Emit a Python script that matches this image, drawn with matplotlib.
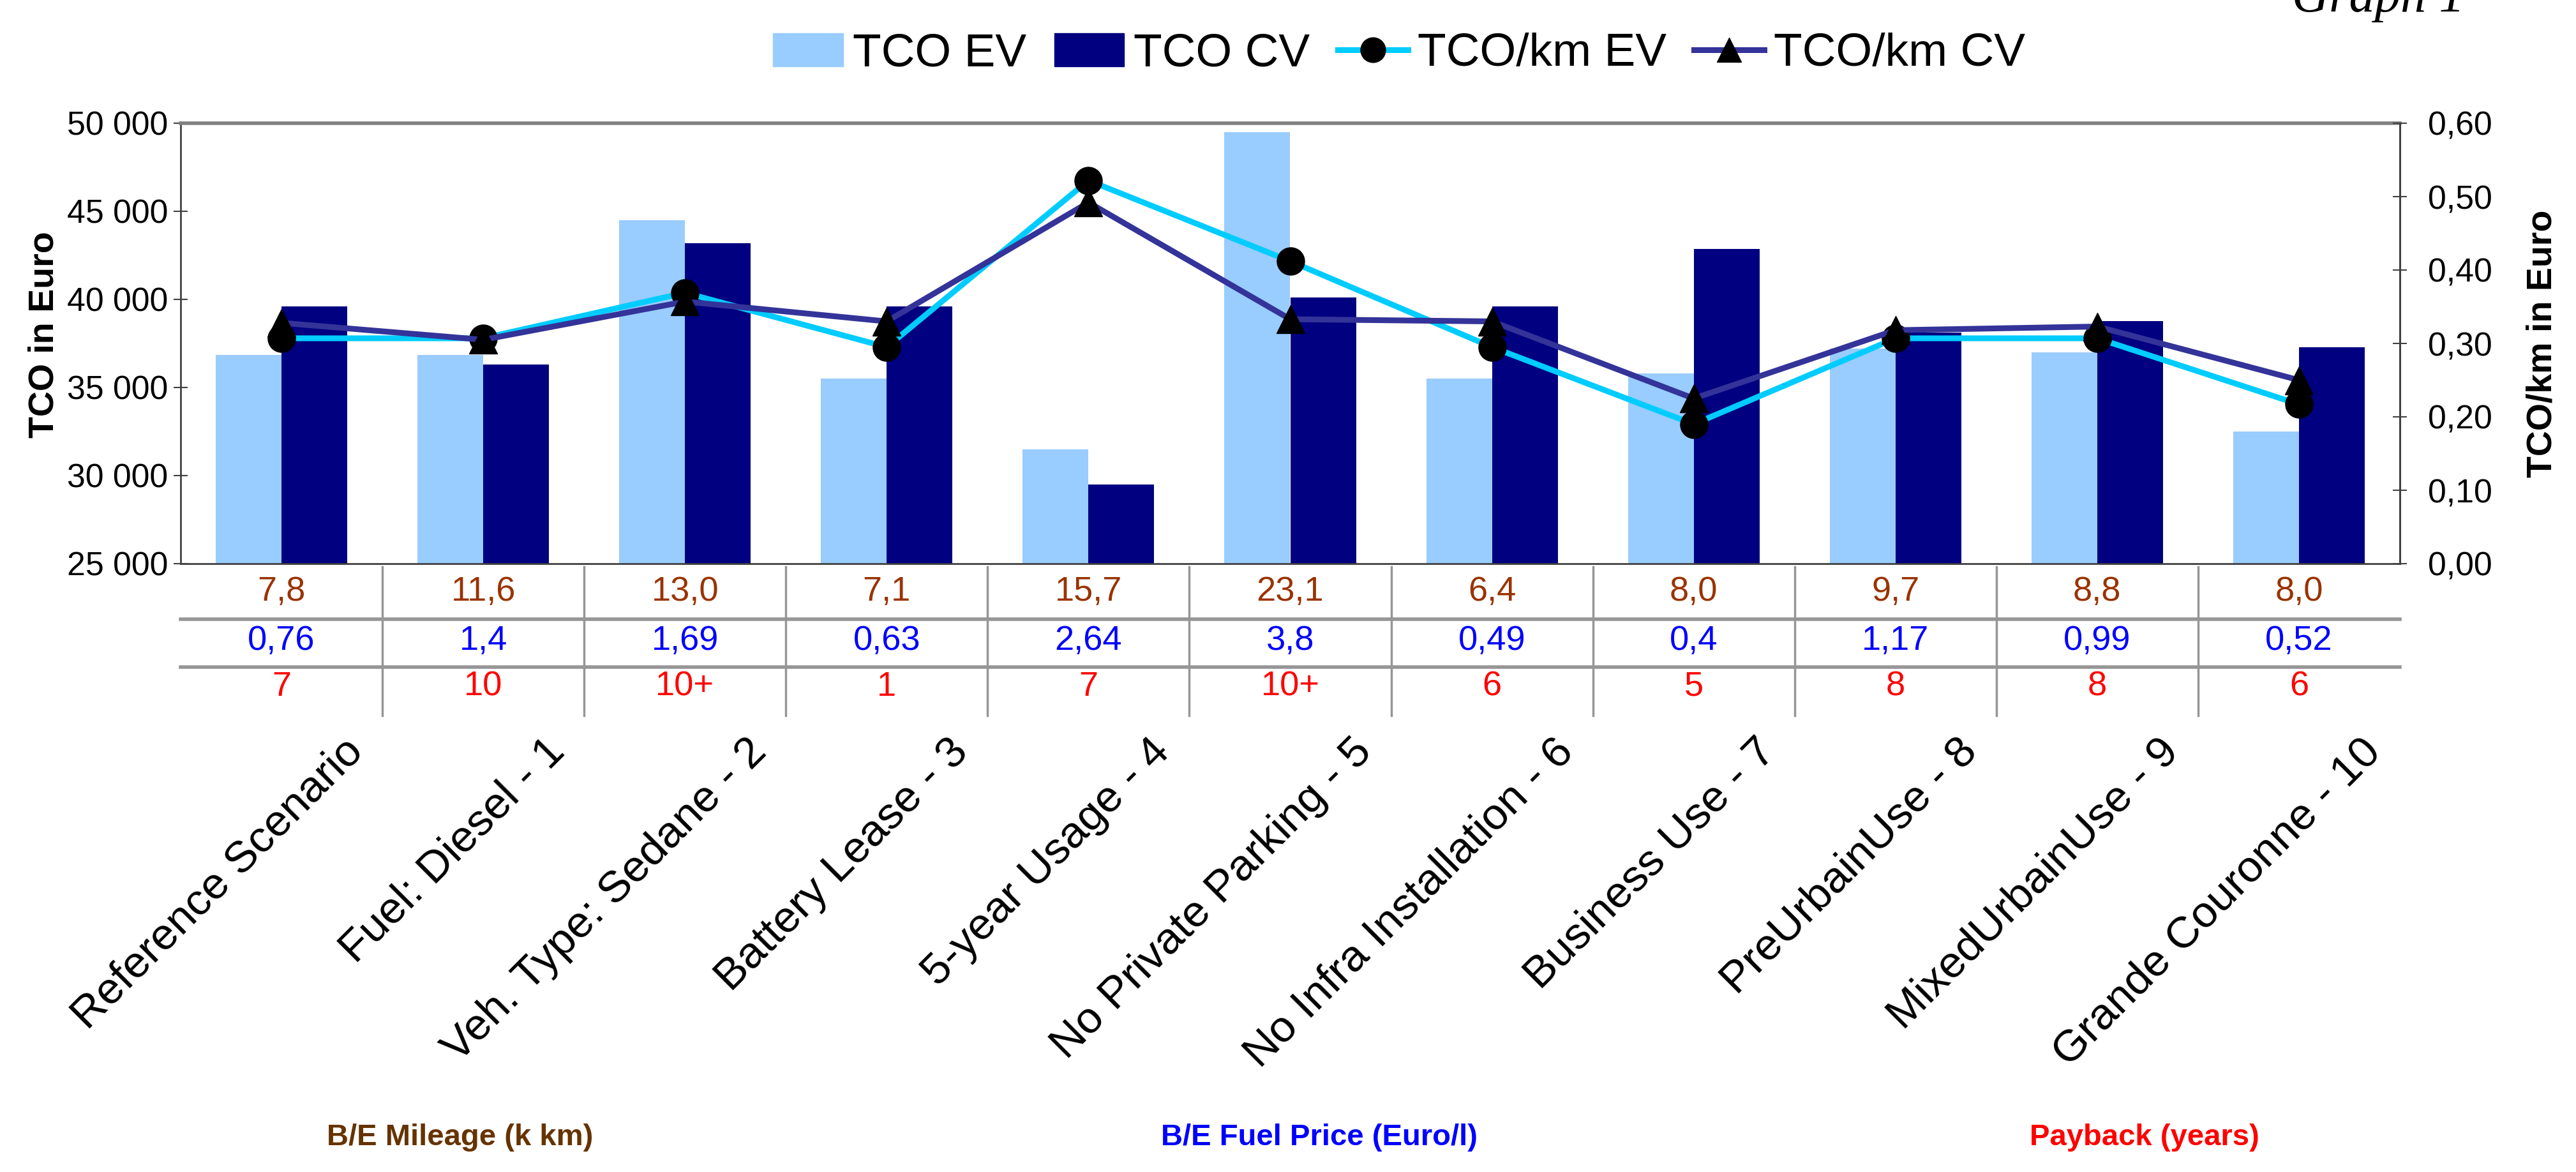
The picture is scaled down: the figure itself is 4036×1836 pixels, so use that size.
import numpy as np
import matplotlib
matplotlib.use("Agg")
import matplotlib.pyplot as plt
import matplotlib.transforms as mtrans
from matplotlib import font_manager
from matplotlib.ticker import FuncFormatter, MultipleLocator
from matplotlib.lines import Line2D
from matplotlib.patches import Patch

plt.rcParams["font.family"] = ["Liberation Sans", "DejaVu Sans"]

# the reference text is tall and narrow: use the narrow face when it exists
_names = {f.name for f in font_manager.fontManager.ttflist}
if "Liberation Sans Narrow" in _names:
    NARROW, NF = ["Liberation Sans Narrow", "Liberation Sans"], 1.0
else:
    NARROW, NF = ["Liberation Sans", "DejaVu Sans"], 0.85

# ── data ──────────────────────────────────────────────────────────────────────
scenarios = ["Reference Scenario", "Fuel: Diesel - 1", "Veh. Type: Sedane - 2",
             "Battery Lease - 3", "5-year Usage - 4", "No Private Parking - 5",
             "No Infra Installation - 6", "Business Use - 7", "PreUrbainUse - 8",
             "MixedUrbainUse - 9", "Grande Couronne - 10"]
tco_ev = [36850, 36850, 44500, 35500, 31500, 49500, 35500, 35800, 37200, 37000, 32500]
tco_cv = [39600, 36300, 43200, 39600, 29500, 40100, 39600, 42850, 38100, 38750, 37300]
km_ev = [0.307, 0.307, 0.369, 0.295, 0.522, 0.412, 0.295, 0.190, 0.307, 0.307, 0.217]
km_cv = [0.328, 0.305, 0.357, 0.330, 0.492, 0.333, 0.330, 0.225, 0.318, 0.323, 0.250]

mileage = ["7,8", "11,6", "13,0", "7,1", "15,7", "23,1", "6,4", "8,0", "9,7", "8,8", "8,0"]
fuel_price = ["0,76", "1,4", "1,69", "0,63", "2,64", "3,8", "0,49", "0,4", "1,17", "0,99", "0,52"]
payback = ["7", "10", "10+", "1", "7", "10+", "6", "5", "8", "8", "6"]

C_EV_BAR = "#99CCFF"
C_CV_BAR = "#000080"
C_EV_LINE = "#00CCFF"
C_CV_LINE = "#333399"

W, H = 4036, 1836
fig = plt.figure(figsize=(W / 100, H / 100), dpi=100)
ax = fig.add_axes([283 / W, 1 - 883 / H, (3760 - 283) / W, (883 - 193) / H])
ax2 = ax.twinx()

x = np.arange(len(scenarios))
bw = 0.326
ax.bar(x - bw / 2, tco_ev, bw, color=C_EV_BAR, zorder=2)
ax.bar(x + bw / 2, tco_cv, bw, color=C_CV_BAR, zorder=2)

ax2.plot(x, km_ev, color=C_EV_LINE, lw=6.5, marker="o", ms=31,
         mfc="black", mec="black", zorder=3)
ax2.plot(x, km_cv, color=C_CV_LINE, lw=6.5, marker="^", ms=31,
         mfc="black", mec="black", zorder=4)

ax.set_xlim(-0.5, len(scenarios) - 0.5)
ax.set_ylim(25000, 50000)
ax2.set_ylim(0, 0.6)
ax.yaxis.set_major_locator(MultipleLocator(5000))
ax2.yaxis.set_major_locator(MultipleLocator(0.1))
ax.yaxis.set_major_formatter(FuncFormatter(lambda v, p: f"{int(v):,}".replace(",", " ")))
ax2.yaxis.set_major_formatter(FuncFormatter(lambda v, p: f"{v:.2f}".replace(".", ",")))

ax.set_xticks([])
ax.tick_params(axis="y", direction="inout", length=16, width=1.5,
               color="#404040", pad=6)
ax2.tick_params(axis="y", direction="inout", length=16, width=1.5,
                color="#404040", pad=24)
for a in (ax, ax2):
    for t in a.get_yticklabels():
        t.set_family(NARROW)
        t.set_fontsize(44 * NF)

for a in (ax, ax2):
    for s in a.spines.values():
        s.set_color("#404040")
        s.set_linewidth(2)
ax.spines["top"].set_color("#808080")
ax.spines["top"].set_linewidth(4)
ax2.spines["top"].set_visible(False)
ax2.spines["bottom"].set_visible(False)
ax2.spines["left"].set_visible(False)

ax.set_ylabel("TCO in Euro", fontsize=40, fontweight="bold")
ax2.set_ylabel("TCO/km in Euro", fontsize=40, fontweight="bold")
ax.yaxis.set_label_coords((95 - 283) / 3477, 0.52)
ax2.yaxis.set_label_coords((3958 - 283) / 3477, 0.5)

# ── data table under the axis ─────────────────────────────────────────────────
tr = mtrans.blended_transform_factory(ax.transData, fig.transFigure)
rows = [(mileage, "#993300", 1 - 927 / H),
        (fuel_price, "#0000FF", 1 - 1004 / H),
        (payback, "#FF0000", 1 - 1076 / H)]
for vals, col, yy in rows:
    for i, v in enumerate(vals):
        fig.text(i, yy, v, transform=tr, ha="center", va="center",
                 fontsize=46 * NF, color=col, family=NARROW)
for yy in (1 - 970 / H, 1 - 1045 / H):
    fig.add_artist(Line2D([-0.5, len(scenarios) - 0.5], [yy, yy], transform=tr,
                          color="#969696", lw=4))
for k in range(1, len(scenarios)):
    fig.add_artist(Line2D([k - 0.5, k - 0.5], [1 - 888 / H, 1 - 1121 / H],
                          transform=tr, color="#969696", lw=2.5))

for i, lab in enumerate(scenarios):
    fig.text(i + 0.3, 1 - 1145 / H, lab, transform=tr, ha="right", va="top",
             rotation=45, rotation_mode="anchor", fontsize=50)

fig.text(721 / W, 1 - 1782 / H, "B/E Mileage (k km)", ha="center", va="center",
         fontsize=40 * NF, fontweight="bold", color="#663300", family=NARROW)
fig.text(2067 / W, 1 - 1782 / H, "B/E Fuel Price (Euro/l)", ha="center", va="center",
         fontsize=40 * NF, fontweight="bold", color="#0000FF", family=NARROW)
fig.text(3360 / W, 1 - 1782 / H, "Payback (years)", ha="center", va="center",
         fontsize=40 * NF, fontweight="bold", color="#FF0000", family=NARROW)

fig.text(3862 / W, 1 - 18 / H, "Graph 1", ha="right", va="baseline",
         fontsize=58, style="italic", family="Liberation Serif")

# ── legend ────────────────────────────────────────────────────────────────────
handles = [Patch(color=C_EV_BAR), Patch(color=C_CV_BAR),
           Line2D([], [], color=C_EV_LINE, lw=6.5, marker="o", ms=28, mfc="black", mec="black"),
           Line2D([], [], color=C_CV_LINE, lw=6.5, marker="^", ms=28, mfc="black", mec="black")]
leg = fig.legend(handles, ["TCO EV", "TCO CV", "TCO/km EV", "TCO/km CV"],
                 loc="center", bbox_to_anchor=(2192 / W, 1 - 85 / H), ncol=4,
                 frameon=False, handlelength=1.5, handletextpad=0.2,
                 columnspacing=0.6, prop={"family": NARROW, "size": 62 * NF})

fig.savefig("out.png", dpi=100)
